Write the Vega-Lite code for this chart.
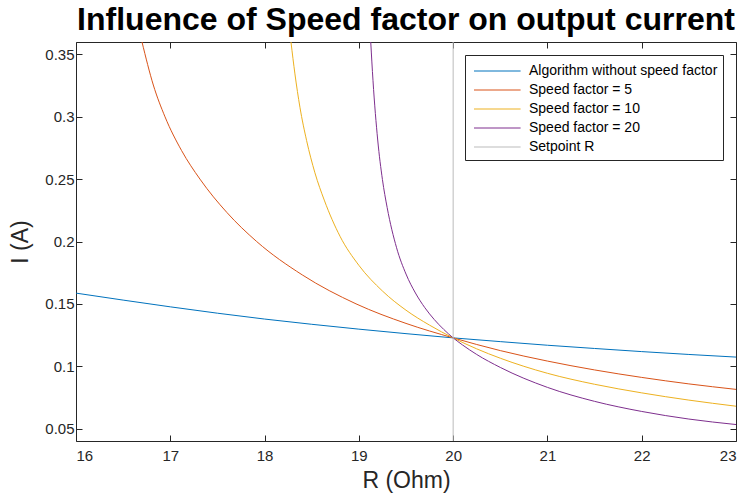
{
  "$schema": "https://vega.github.io/schema/vega-lite/v6.json",
  "width": 660,
  "height": 399,
  "autosize": {"type": "none"},
  "padding": {"left": 76, "top": 42, "right": 10, "bottom": 60},
  "background": "white",
  "title": {"text": "Influence of Speed factor on output current", "fontSize": 32, "font": "Liberation Sans", "fontWeight": "bold", "color": "#000000", "anchor": "middle", "offset": 5},
  "config": {
    "view": {"stroke": null},
    "font": "Liberation Sans",
    "axis": {"grid": false, "labelFont": "Liberation Sans", "titleFont": "Liberation Sans", "labelColor": "#262626", "titleColor": "#262626", "domainColor": "#262626", "tickColor": "#262626", "labelFontSize": 15, "titleFontSize": 23, "titleFontWeight": "normal", "tickSize": -6, "domainWidth": 1, "tickWidth": 1}
  },
  "datasets": {
    "curves": [
      {"series": "Algorithm without speed factor", "R": 16, "I": 0.1586},
      {"series": "Algorithm without speed factor", "R": 16.5, "I": 0.153},
      {"series": "Algorithm without speed factor", "R": 17, "I": 0.1476},
      {"series": "Algorithm without speed factor", "R": 17.5, "I": 0.1425},
      {"series": "Algorithm without speed factor", "R": 18, "I": 0.1378},
      {"series": "Algorithm without speed factor", "R": 18.5, "I": 0.1336},
      {"series": "Algorithm without speed factor", "R": 19, "I": 0.1297},
      {"series": "Algorithm without speed factor", "R": 19.5, "I": 0.1261},
      {"series": "Algorithm without speed factor", "R": 20, "I": 0.1227},
      {"series": "Algorithm without speed factor", "R": 20.5, "I": 0.1197},
      {"series": "Algorithm without speed factor", "R": 21, "I": 0.1168},
      {"series": "Algorithm without speed factor", "R": 21.5, "I": 0.1142},
      {"series": "Algorithm without speed factor", "R": 22, "I": 0.1117},
      {"series": "Algorithm without speed factor", "R": 22.5, "I": 0.1094},
      {"series": "Algorithm without speed factor", "R": 23, "I": 0.1073},
      {"series": "Speed factor = 5", "R": 16.70, "I": 0.360},
      {"series": "Speed factor = 5", "R": 16.82, "I": 0.3255},
      {"series": "Speed factor = 5", "R": 16.944, "I": 0.300},
      {"series": "Speed factor = 5", "R": 17.12, "I": 0.2729},
      {"series": "Speed factor = 5", "R": 17.315, "I": 0.250},
      {"series": "Speed factor = 5", "R": 17.6, "I": 0.2233},
      {"series": "Speed factor = 5", "R": 17.916, "I": 0.200},
      {"series": "Speed factor = 5", "R": 18.4, "I": 0.1732},
      {"series": "Speed factor = 5", "R": 18.97, "I": 0.150},
      {"series": "Speed factor = 5", "R": 19.5, "I": 0.1343},
      {"series": "Speed factor = 5", "R": 20, "I": 0.1227},
      {"series": "Speed factor = 5", "R": 20.5, "I": 0.1125},
      {"series": "Speed factor = 5", "R": 21, "I": 0.1041},
      {"series": "Speed factor = 5", "R": 21.5, "I": 0.0970},
      {"series": "Speed factor = 5", "R": 22, "I": 0.0910},
      {"series": "Speed factor = 5", "R": 22.5, "I": 0.0858},
      {"series": "Speed factor = 5", "R": 23, "I": 0.0814},
      {"series": "Speed factor = 10", "R": 18.28, "I": 0.360},
      {"series": "Speed factor = 10", "R": 18.322, "I": 0.3344},
      {"series": "Speed factor = 10", "R": 18.375, "I": 0.3077},
      {"series": "Speed factor = 10", "R": 18.446, "I": 0.2809},
      {"series": "Speed factor = 10", "R": 18.534, "I": 0.2551},
      {"series": "Speed factor = 10", "R": 18.633, "I": 0.2332},
      {"series": "Speed factor = 10", "R": 18.8, "I": 0.2042},
      {"series": "Speed factor = 10", "R": 19.0, "I": 0.1809},
      {"series": "Speed factor = 10", "R": 19.25, "I": 0.1603},
      {"series": "Speed factor = 10", "R": 19.5, "I": 0.1449},
      {"series": "Speed factor = 10", "R": 19.75, "I": 0.1329},
      {"series": "Speed factor = 10", "R": 20, "I": 0.1227},
      {"series": "Speed factor = 10", "R": 20.25, "I": 0.1139},
      {"series": "Speed factor = 10", "R": 20.5, "I": 0.1064},
      {"series": "Speed factor = 10", "R": 21, "I": 0.0943},
      {"series": "Speed factor = 10", "R": 21.5, "I": 0.0855},
      {"series": "Speed factor = 10", "R": 22, "I": 0.0786},
      {"series": "Speed factor = 10", "R": 22.5, "I": 0.0728},
      {"series": "Speed factor = 10", "R": 23, "I": 0.0679},
      {"series": "Speed factor = 20", "R": 19.126, "I": 0.360},
      {"series": "Speed factor = 20", "R": 19.15, "I": 0.329},
      {"series": "Speed factor = 20", "R": 19.2, "I": 0.2814},
      {"series": "Speed factor = 20", "R": 19.25, "I": 0.2497},
      {"series": "Speed factor = 20", "R": 19.3, "I": 0.2273},
      {"series": "Speed factor = 20", "R": 19.4, "I": 0.1950},
      {"series": "Speed factor = 20", "R": 19.5, "I": 0.1739},
      {"series": "Speed factor = 20", "R": 19.6, "I": 0.1587},
      {"series": "Speed factor = 20", "R": 19.7, "I": 0.1469},
      {"series": "Speed factor = 20", "R": 19.8, "I": 0.1374},
      {"series": "Speed factor = 20", "R": 19.9, "I": 0.1295},
      {"series": "Speed factor = 20", "R": 20, "I": 0.1227},
      {"series": "Speed factor = 20", "R": 20.1, "I": 0.1170},
      {"series": "Speed factor = 20", "R": 20.25, "I": 0.1094},
      {"series": "Speed factor = 20", "R": 20.5, "I": 0.0990},
      {"series": "Speed factor = 20", "R": 21, "I": 0.0830},
      {"series": "Speed factor = 20", "R": 21.5, "I": 0.0718},
      {"series": "Speed factor = 20", "R": 22, "I": 0.0637},
      {"series": "Speed factor = 20", "R": 22.5, "I": 0.0576},
      {"series": "Speed factor = 20", "R": 23, "I": 0.0532}
    ],
    "setpoint": [
      {"series": "Setpoint R", "R": 20}
    ]
  },
  "layer": [
    {
      "data": {"name": "curves"},
      "mark": {"type": "line", "interpolate": "monotone", "strokeWidth": 1, "clip": true},
      "encoding": {
        "x": {"field": "R", "type": "quantitative", "scale": {"domain": [16, 23], "nice": false, "zero": false},
          "axis": {"orient": "bottom", "values": [16, 17, 18, 19, 20, 21, 22, 23], "format": "d", "title": "R (Ohm)", "labelPadding": 13, "titlePadding": 6}},
        "y": {"field": "I", "type": "quantitative", "scale": {"domain": [0.04, 0.36], "nice": false, "zero": false},
          "axis": {"orient": "left", "values": [0.05, 0.1, 0.15, 0.2, 0.25, 0.3, 0.35], "format": ".2~f", "title": "I (A)", "labelPadding": 8, "titlePadding": 12}},
        "color": {"field": "series", "type": "nominal",
          "scale": {"domain": ["Algorithm without speed factor", "Speed factor = 5", "Speed factor = 10", "Speed factor = 20", "Setpoint R"],
                    "range": ["#0072BD", "#D95319", "#EDB120", "#7E2F8E", "#BBBBBB"]},
          "legend": {"orient": "top-right", "offset": 13, "title": null, "symbolType": "M-1,0H3.66", "symbolSize": 400, "symbolStrokeWidth": 1, "symbolOffset": 3, "symbolFillColor": "transparent",
                     "labelFontSize": 14, "labelLimit": 400, "labelOffset": 34.5, "labelFont": "Liberation Sans", "labelColor": "#000000", "strokeColor": "#262626", "fillColor": "white", "padding": 5.5, "rowPadding": 1}},
        "order": {"field": "R", "type": "quantitative"}
      }
    },
    {
      "data": {"name": "setpoint"},
      "mark": {"type": "rule", "strokeWidth": 1},
      "encoding": {
        "x": {"field": "R", "type": "quantitative",
          "axis": {"orient": "top", "values": [16, 17, 18, 19, 20, 21, 22, 23], "labels": false, "title": null}},
        "color": {"field": "series", "type": "nominal"}
      }
    },
    {
      "data": {"name": "setpoint"},
      "mark": {"type": "point", "opacity": 0},
      "encoding": {
        "y": {"datum": 0.2, "type": "quantitative",
          "axis": {"orient": "right", "values": [0.05, 0.1, 0.15, 0.2, 0.25, 0.3, 0.35], "labels": false, "title": null}}
      }
    }
  ],
  "resolve": {"axis": {"x": "independent", "y": "independent"}}
}
